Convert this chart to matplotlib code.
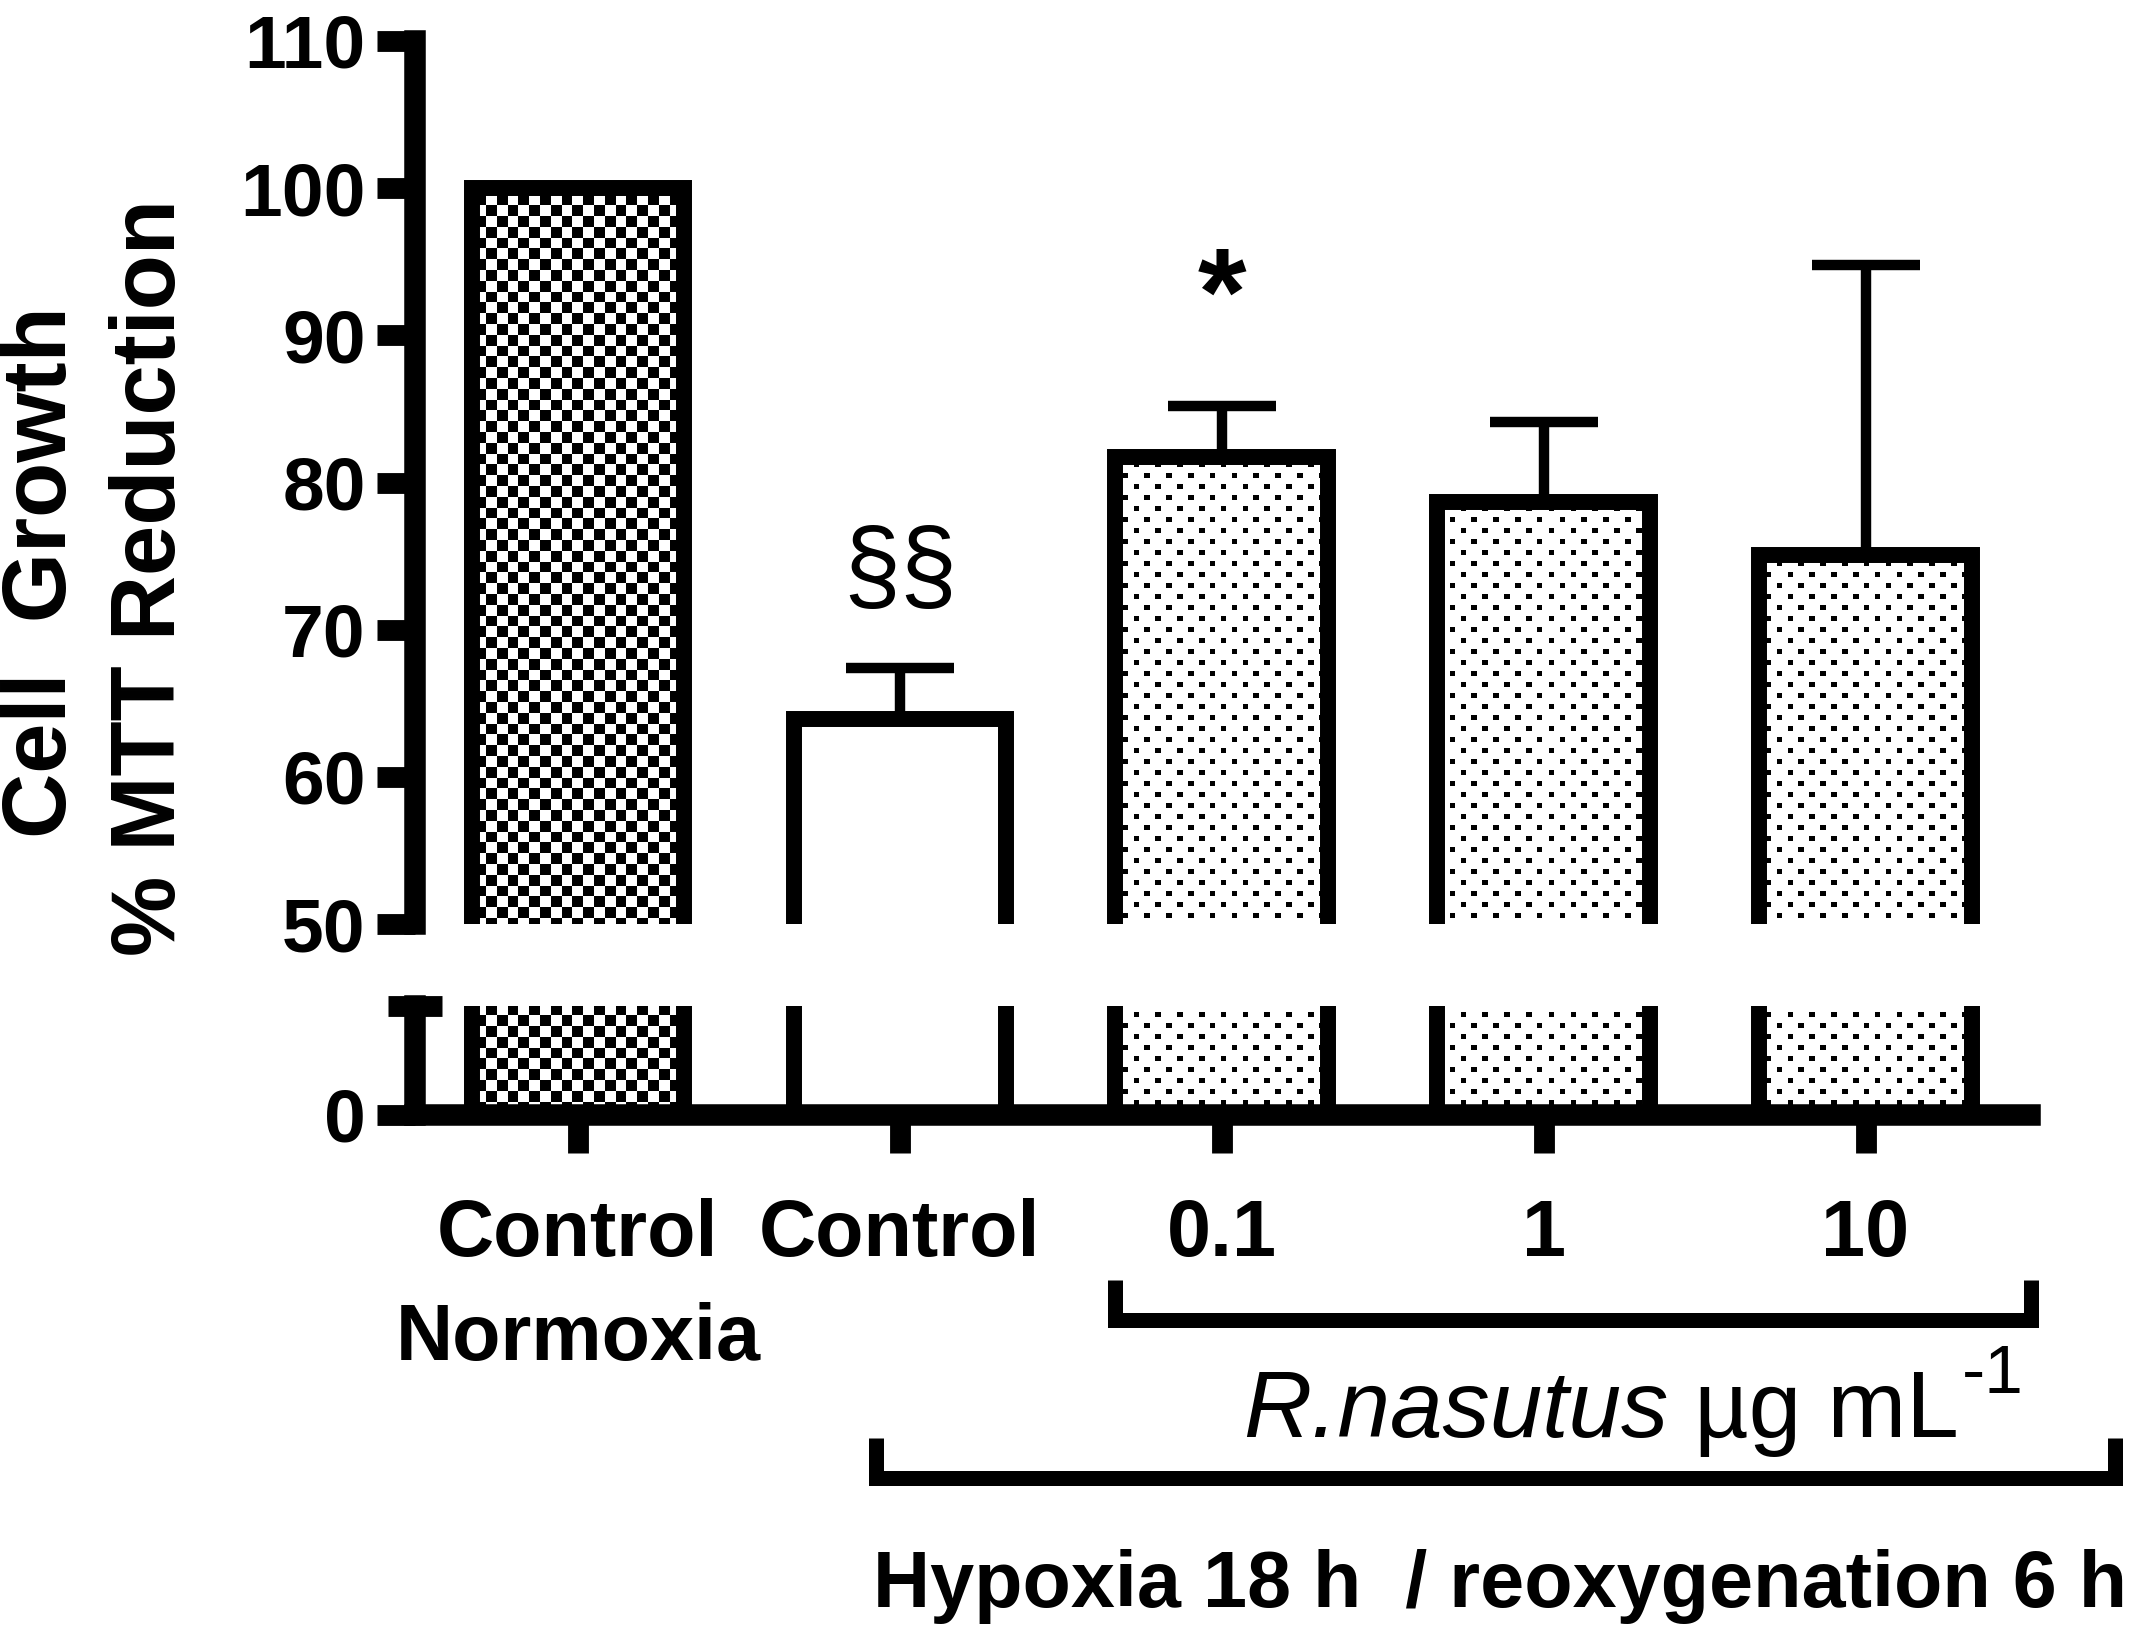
import numpy as np
import matplotlib.pyplot as plt
from matplotlib.transforms import Bbox, blended_transform_factory

plt.rcParams['font.family'] = ['Liberation Sans', 'DejaVu Sans']
plt.rcParams['font.weight'] = 'bold'

# data
groups = ['Control\nNormoxia', 'Control', '0.1', '1', '10']
means = [100, 63.9, 81.7, 78.7, 75.1]
errs = [0, 3.5, 3.5, 5.4, 19.7]
fills = ['checker', 'none', 'dots', 'dots', 'dots']
marks = ['', '§§', '*', '', '']
upper_ticks = [50, 60, 70, 80, 90, 100, 110]
lower_ticks = [0]

W, H = 2147, 1641
fig = plt.figure(figsize=(W / 100, H / 100), dpi=100)


def frac(x0, y0, x1, y1):
    # pixel box (top-left origin) -> figure rect
    return [x0 / W, 1 - y1 / H, (x1 - x0) / W, (y1 - y0) / H]


ax = fig.add_axes(frac(415, 41, 2030, 924))
axl = fig.add_axes(frac(415, 1006, 2030, 1115))

x = np.arange(len(groups))
xlim = (-0.506, 4.511)
lims = {ax: (50, 110), axl: (0, 10)}

spw = 15.5
for a in (ax, axl):
    a.set_xlim(*xlim)
    a.set_ylim(*lims[a])
    a.set_autoscale_on(False)
    for s in ('top', 'right'):
        a.spines[s].set_visible(False)
    for s in ('left', 'bottom'):
        a.spines[s].set_linewidth(spw)
ax.spines['bottom'].set_visible(False)

bars_by_ax = {}
for a in (ax, axl):
    bars_by_ax[a] = a.bar(x, means, width=0.66, facecolor='none',
                          edgecolor='black', linewidth=11.5, zorder=3)

ax.errorbar(x, means, yerr=[np.zeros(len(errs)), errs], fmt='none',
            ecolor='black', elinewidth=7.5, capsize=39, capthick=7.5, zorder=2)


def pattern_fill(a, bar, kind):
    bb = Bbox.intersection(bar.get_window_extent(), a.bbox)
    x0, x1 = int(round(bb.x0)), int(round(bb.x1))
    y0, y1 = int(round(bb.y0)), int(round(bb.y1))
    X, Y = np.meshgrid(np.arange(x0, x1) + 0.5, H - (np.arange(y0, y1) + 0.5))
    if kind == 'checker':
        ink = ((X // 10.8 + Y // 10.8) % 2) == 0
    else:
        row = Y // 11
        ink = ((Y % 11) < 5.5) & (((X + (row % 2) * 10.9) % 21.8) < 5.5)
    img = np.where(ink, 0.0, 1.0)
    inv = a.transData.inverted()
    dx0, dy0 = inv.transform((x0, y0))
    dx1, dy1 = inv.transform((x1, y1))
    a.imshow(img, extent=(dx0, dx1, dy0, dy1), origin='lower', cmap='gray',
             vmin=0, vmax=1, interpolation='nearest', aspect='auto', zorder=1)


for a in (ax, axl):
    for bar, kind in zip(bars_by_ax[a], fills):
        if kind != 'none':
            pattern_fill(a, bar, kind)
    a.set_xlim(*xlim)
    a.set_ylim(*lims[a])

# y axis ticks
ax.set_yticks(upper_ticks)
ax.tick_params(axis='y', direction='out', length=27.5, width=15, pad=8,
               labelsize=54)
ax.set_yticks([50], minor=True)
ax.tick_params(axis='y', which='minor', direction='in', length=23, width=15)
ax.tick_params(axis='x', bottom=False, labelbottom=False)

axl.set_yticks(lower_ticks)
axl.tick_params(axis='y', direction='out', length=27.5, width=15, pad=8,
                labelsize=54)
axl.set_yticks([lims[axl][1]], minor=True)
axl.tick_params(axis='y', which='minor', direction='inout', length=39, width=15)

axl.set_xticks(x, groups)
axl.tick_params(axis='x', direction='out', length=27.5, width=15, pad=32,
                labelsize=57)
for lab in axl.get_xticklabels():
    lab.set_linespacing(1.5)

# significance marks
mark_off = {'§§': 6.4, '*': 7.0}
mark_style = {'§§': dict(fontsize=74, fontweight='normal'),
              '*': dict(fontsize=90, fontweight='bold')}
for xi, m, e, s in zip(x, means, errs, marks):
    if s:
        ax.text(xi, m + e + mark_off[s], s, ha='center', va='center',
                **mark_style[s])

# y label
fig.text(43 / W, 1 - 572 / H, 'Cell  Growth', rotation=90, ha='center',
         va='center', fontsize=65)
fig.text(152 / W, 1 - 577 / H, '% MTT Reduction', rotation=90, ha='center',
         va='center', fontsize=65)

# brackets below the axis
tr = blended_transform_factory(axl.transData, fig.transFigure)
for xa, xb, ytop, ybot in [(1.668, 4.514, 1280, 1320), (0.926, 4.775, 1438, 1478)]:
    axl.plot([xa, xa, xb, xb], [1 - ytop / H, 1 - ybot / H, 1 - ybot / H, 1 - ytop / H],
             color='black', lw=10.8, transform=tr, clip_on=False,
             solid_joinstyle='miter', solid_capstyle='butt')

t1 = fig.text(1243 / W, 1 - 1437 / H, 'R.nasutus', style='italic',
              fontweight='normal', fontsize=68, va='baseline')
t2 = axl.annotate(' µg mL', xy=(1, 0), xycoords=t1, ha='left', va='bottom',
                  fontweight='normal', fontsize=68, annotation_clip=False)
axl.annotate('-1', xy=(1, 1), xycoords=t2, xytext=(2, 18),
             textcoords='offset points', ha='left', va='top',
             fontweight='normal', fontsize=50, annotation_clip=False)

fig.text(873 / W, 1 - 1607 / H, 'Hypoxia 18 h  / reoxygenation 6 h',
         fontsize=57, va='baseline')

fig.savefig('out.png', dpi=100)
